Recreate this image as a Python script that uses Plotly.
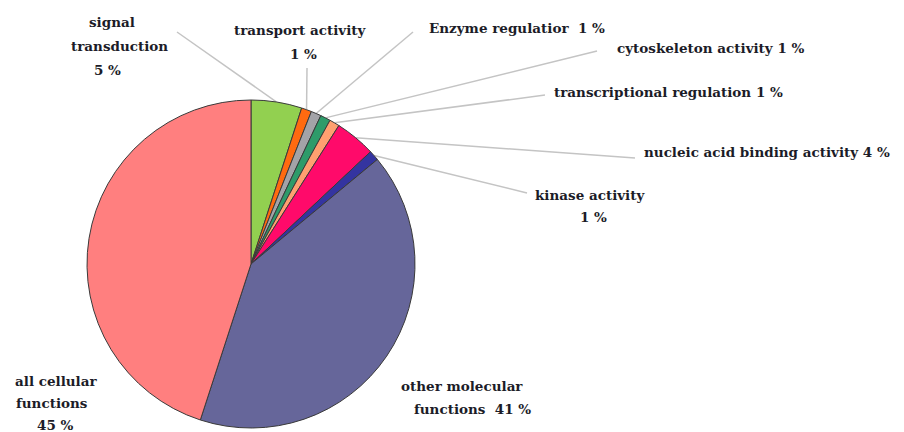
import math
import plotly.graph_objects as go

# Molecular function categories, clockwise from 12 o'clock
categories = [
    "signal transduction",
    "transport activity",
    "Enzyme regulation",
    "cytoskeleton activity",
    "transcriptional regulation",
    "nucleic acid binding activity",
    "kinase activity",
    "other molecular functions",
    "all cellular functions",
]
percent = [5, 1, 1, 1, 1, 4, 1, 41, 45]
colors = [
    "#92D050", "#FF6A10", "#A3A3A8", "#2E9B6A", "#FFA070",
    "#FF0A6A", "#3434A0", "#66669A", "#FF7F7F",
]

# Label text lines for each category (drawn line by line)
label_lines = [
    ["signal", "transduction", "5 %"],
    ["transport activity", "1 %"],
    ["Enzyme regulatior  1 %"],
    ["cytoskeleton activity 1 %"],
    ["transcriptional regulation 1 %"],
    ["nucleic acid binding activity 4 %"],
    ["kinase activity", "1 %"],
    ["other molecular", "functions  41 %"],
    ["all cellular", "functions", "45 %"],
]

W, H = 904, 432
CX, CY, R = 251, 264, 164  # pie centre and radius in pixels

# label line centres (pixels) and outer ends of leader lines
label_pos = [
    [(112, 22), (119, 46), (107, 70)],
    [(300, 30), (303, 54)],
    [(517, 28)],
    [(710, 48)],
    [(668, 92)],
    [(767, 152)],
    [(590, 195), (593, 217)],
    [(462, 386), (473, 409)],
    [(56, 381), (52, 403), (55, 425)],
]
leader_end = [(177, 32), (307, 68), (413, 32), (597, 51), (545, 95),
              (635, 158), (527, 193), None, None]

fig = go.Figure(go.Pie(
    labels=categories,
    values=percent,
    sort=False,
    direction="clockwise",
    rotation=0,
    marker=dict(colors=colors, line=dict(color="#3a3a3a", width=1)),
    textinfo="none",
    hoverinfo="skip",
    showlegend=False,
    domain=dict(x=[(CX - R) / W, (CX + R) / W],
                y=[1 - (CY + R) / H, 1 - (CY - R) / H]),
))

font = dict(family="DejaVu Serif", size=13.5, color="#1c1c28", weight="bold")

shapes = []
annotations = []
total = sum(percent)
cum = 0
for val, lines, pos, end in zip(percent, label_lines, label_pos, leader_end):
    mid = (cum + val / 2) / total * 2 * math.pi
    cum += val
    if end is not None:
        sx = CX + R * math.sin(mid)
        sy = CY - R * math.cos(mid)
        shapes.append(dict(
            type="line", xref="paper", yref="paper",
            x0=sx / W, y0=1 - sy / H, x1=end[0] / W, y1=1 - end[1] / H,
            line=dict(color="#c4c4c4", width=1.5), layer="below",
        ))
    for text, (px, py) in zip(lines, pos):
        annotations.append(dict(
            text=text, x=px / W, y=1 - py / H, xref="paper", yref="paper",
            xanchor="center", yanchor="middle", showarrow=False, font=font,
        ))

fig.update_layout(
    width=W, height=H,
    margin=dict(l=0, r=0, t=0, b=0),
    paper_bgcolor="white", plot_bgcolor="white",
    shapes=shapes, annotations=annotations,
)

fig.write_html("out.html")
